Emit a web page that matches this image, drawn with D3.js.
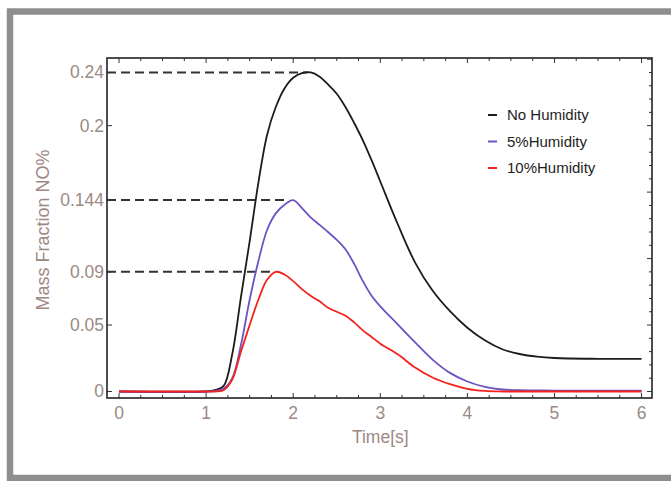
<!DOCTYPE html>
<html>
<head>
<meta charset="utf-8">
<script src="https://cdn.jsdelivr.net/npm/d3@7"></script>
<style>
  html, body { margin: 0; padding: 0; background: #ffffff; }
  svg { display: block; }
</style>
</head>
<body>
<div id="container"></div>
<script>
// time grid (s) shared by the three series
var times = [0, 1.0, 1.1, 1.2, 1.3, 1.4, 1.5, 1.6, 1.7, 1.8, 1.9, 2.0, 2.1, 2.2, 2.3, 2.4, 2.5,
             2.6, 2.7, 2.8, 2.9, 3.0, 3.2, 3.4, 3.6, 3.8, 4.0, 4.2, 4.4, 4.6, 4.8, 5.0, 5.5, 6.0];

var noHumidity = [0, 0, 0.001, 0.004, 0.028, 0.071, 0.113, 0.157, 0.193, 0.214, 0.228, 0.236, 0.2395, 0.240, 0.237, 0.231, 0.224,
                  0.214, 0.202, 0.189, 0.174, 0.158, 0.126, 0.097, 0.076, 0.0605, 0.048, 0.0385, 0.0318, 0.0282, 0.0262, 0.0252, 0.0246, 0.0245];

var humidity5 = [0, 0, 0.0005, 0.002, 0.010, 0.035, 0.069, 0.098, 0.1215, 0.134, 0.1405, 0.144, 0.138, 0.131, 0.1255, 0.120, 0.114,
                 0.107, 0.096, 0.083, 0.072, 0.064, 0.0505, 0.037, 0.024, 0.014, 0.0075, 0.0035, 0.0015, 0.001, 0.0008, 0.0007, 0.0006, 0.0006];

var humidity10 = [0, 0, 0, 0.001, 0.009, 0.030, 0.050, 0.069, 0.084, 0.090, 0.088, 0.083, 0.077, 0.072, 0.068, 0.063, 0.060,
                  0.057, 0.052, 0.046, 0.041, 0.036, 0.028, 0.018, 0.0105, 0.0055, 0.002, 0.0004, 0, 0, 0, 0, 0, 0];

var seriesNames = ["No Humidity", "5%Humidity", "10%Humidity"];
var seriesColors = ["#1c1c1c", "#6f52c4", "#f2231c"];

var yTicks = [0, 0.05, 0.09, 0.144, 0.2, 0.24];
var yTickLabels = ["0", "0.05", "0.09", "0.144", "0.2", "0.24"];
var xTicks = [0, 1, 2, 3, 4, 5, 6];

var W = 671, H = 481;
var pLeft = 107, pRight = 652, pTop = 58, pBottom = 398;
var labelColor = "#9b8984";

var svg = d3.select("#container").append("svg")
    .attr("width", W).attr("height", H)
    .style("font-family", "'Liberation Sans', Arial, sans-serif");

// page frame
svg.append("rect")
    .attr("x", 10).attr("y", 11.5)
    .attr("width", 720).attr("height", 466.5)
    .attr("fill", "#ffffff")
    .attr("stroke", "#8e8e8e")
    .attr("stroke-width", 6.5);

var x = d3.scaleLinear().domain([-0.138, 6.12]).range([pLeft, pRight]);
var y = d3.scaleLinear().domain([-0.0049, 0.2509]).range([pBottom, pTop]);

var g = svg.append("g");

// frame ticks (inward, Mathematica style)
var xMinor = d3.range(0, 6.01, 0.25);
var yMinorR = d3.range(0, 0.2501, 0.01);

g.selectAll("line.xb").data(xMinor).enter().append("line")
    .attr("x1", function (d) { return x(d); }).attr("x2", function (d) { return x(d); })
    .attr("y1", pBottom).attr("y2", function (d) { return pBottom - (Math.abs(d - Math.round(d)) < 1e-6 ? 5 : 3); })
    .attr("stroke", "#333").attr("stroke-width", 1);

g.selectAll("line.xt").data(xMinor).enter().append("line")
    .attr("x1", function (d) { return x(d); }).attr("x2", function (d) { return x(d); })
    .attr("y1", pTop).attr("y2", function (d) { return pTop + (Math.abs(d - Math.round(d)) < 1e-6 ? 5 : 3); })
    .attr("stroke", "#333").attr("stroke-width", 1);

g.selectAll("line.yl").data(yTicks).enter().append("line")
    .attr("x1", pLeft).attr("x2", pLeft + 5)
    .attr("y1", function (d) { return y(d); }).attr("y2", function (d) { return y(d); })
    .attr("stroke", "#333").attr("stroke-width", 1);

g.selectAll("line.yr").data(yMinorR).enter().append("line")
    .attr("x1", pRight).attr("x2", function (d, i) { return pRight - (i % 5 == 0 ? 5 : 3); })
    .attr("y1", function (d) { return y(d); }).attr("y2", function (d) { return y(d); })
    .attr("stroke", "#333").attr("stroke-width", 1);

// tick labels
g.selectAll("text.xl").data(xTicks).enter().append("text")
    .attr("x", function (d) { return x(d); })
    .attr("y", pBottom + 21)
    .attr("text-anchor", "middle")
    .attr("fill", labelColor)
    .style("font-size", "17.5px")
    .text(function (d) { return d; });

g.selectAll("text.yl").data(yTicks).enter().append("text")
    .attr("x", pLeft - 3)
    .attr("y", function (d) { return y(d) + 6; })
    .attr("text-anchor", "end")
    .attr("fill", labelColor)
    .style("font-size", "17.5px")
    .text(function (d, i) { return yTickLabels[i]; });

// axis titles
svg.append("text")
    .attr("x", x(3)).attr("y", 443)
    .attr("text-anchor", "middle")
    .attr("fill", labelColor)
    .style("font-size", "17.5px")
    .text("Time[s]");

svg.append("text")
    .attr("transform", "translate(49," + 230 + ")rotate(-90)")
    .attr("text-anchor", "middle")
    .attr("fill", labelColor)
    .style("font-size", "18px")
    .text("Mass Fraction NO%");

// dashed peak guides
var allSeries = [noHumidity, humidity5, humidity10];
allSeries.forEach(function (s) {
    var i = d3.maxIndex(s);
    g.append("line")
        .attr("x1", pLeft).attr("x2", x(times[i]) - 4)
        .attr("y1", y(s[i])).attr("y2", y(s[i]))
        .attr("stroke", "#333")
        .attr("stroke-width", 2)
        .attr("stroke-dasharray", "9,5");
});

// curves
var line = d3.line()
    .x(function (d, i) { return x(times[i]); })
    .y(function (d) { return y(d); })
    .curve(d3.curveCatmullRom.alpha(0.5));

allSeries.forEach(function (s, k) {
    g.append("path")
        .datum(s)
        .attr("d", line)
        .attr("fill", "none")
        .attr("stroke", seriesColors[k])
        .attr("stroke-width", 1.8);
});

// frame
g.append("rect")
    .attr("x", pLeft).attr("y", pTop)
    .attr("width", pRight - pLeft).attr("height", pBottom - pTop)
    .attr("fill", "none")
    .attr("stroke", "#222")
    .attr("stroke-width", 1.6);

// legend
var legend = svg.append("g").attr("transform", "translate(488,115)");
seriesNames.forEach(function (n, k) {
    legend.append("line")
        .attr("x1", 0).attr("x2", 9)
        .attr("y1", k * 26.5).attr("y2", k * 26.5)
        .attr("stroke", seriesColors[k])
        .attr("stroke-width", 2);
    legend.append("text")
        .attr("x", 19).attr("y", k * 26.5 + 5)
        .attr("fill", "#1e1e1e")
        .style("font-size", "15px")
        .text(n);
});
</script>
</body>
</html>
